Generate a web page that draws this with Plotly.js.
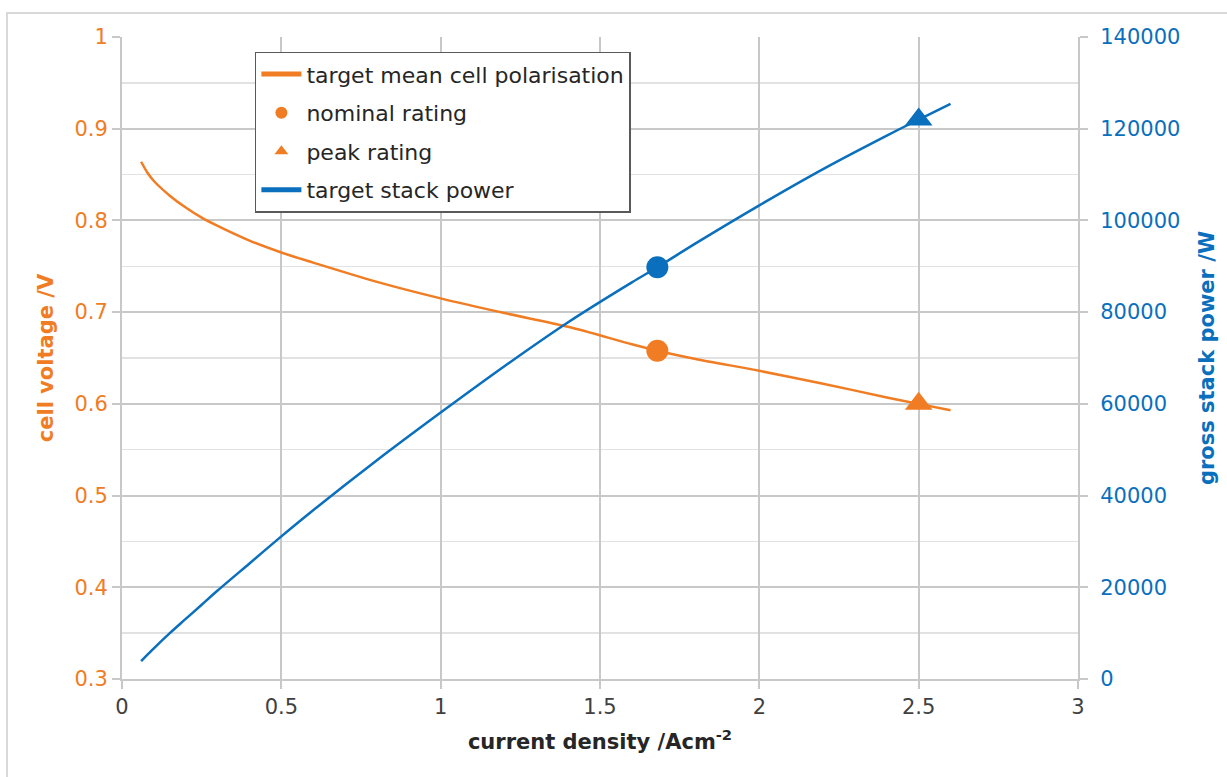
<!DOCTYPE html>
<html>
<head>
<meta charset="utf-8">
<script src="https://cdn.plot.ly/plotly-3.0.1.min.js"></script>
<style>html,body{margin:0;padding:0;background:#fff;}#chart{width:1227px;height:777px;}</style>
</head>
<body>
<div id="chart"></div>
<script>
// current density /Acm^-2
const currentDensity = [0.06, 0.08, 0.1, 0.15, 0.2, 0.25, 0.3, 0.4, 0.5, 0.6, 0.8, 1.0, 1.2, 1.4, 1.6, 1.68, 1.8, 2.0, 2.2, 2.4, 2.5, 2.6];
// target mean cell polarisation /V
const cellVoltage = [0.864, 0.852, 0.843, 0.827, 0.814, 0.803, 0.794, 0.778, 0.765, 0.754, 0.733, 0.715, 0.699, 0.684, 0.665, 0.658, 0.649, 0.636, 0.622, 0.607, 0.600, 0.593];
// target stack power /W
const stackPower = [3900, 5300, 6700, 10000, 13100, 16200, 19300, 25200, 31100, 36800, 47700, 58100, 68200, 77800, 86500, 89800, 95000, 103300, 111200, 118500, 122000, 125400];
// rating points
const nominalX = [1.68], nominalV = [0.658], nominalP = [89800];
const peakX = [2.5], peakV = [0.600], peakP = [122000];

const ORANGE = '#F07D23';
const BLUE = '#0A6FBD';
const FONT = 'DejaVu Sans, Verdana, sans-serif';
const FS = 21;

const traces = [
  {x: currentDensity, y: cellVoltage, mode: 'lines', name: 'target mean cell polarisation',
   line: {color: ORANGE, width: 2.5, shape: 'spline', smoothing: 0.8}, legendgroup: 'a'},
  {x: nominalX, y: nominalV, mode: 'markers', name: 'nominal rating',
   marker: {color: ORANGE, size: 22, symbol: 'circle'}, legendgroup: 'b'},
  {x: peakX, y: peakV, mode: 'markers', name: 'peak rating',
   marker: {color: ORANGE, size: 24, symbol: 'triangle-up'}, legendgroup: 'c'},
  {x: currentDensity, y: stackPower, mode: 'lines', name: 'target stack power', yaxis: 'y2',
   line: {color: BLUE, width: 2.5, shape: 'spline', smoothing: 0.8}, legendgroup: 'd'},
  {x: nominalX, y: nominalP, mode: 'markers', name: 'nominal power', yaxis: 'y2', showlegend: false,
   marker: {color: BLUE, size: 22, symbol: 'circle'}},
  {x: peakX, y: peakP, mode: 'markers', name: 'peak power', yaxis: 'y2', showlegend: false,
   marker: {color: BLUE, size: 24, symbol: 'triangle-up'}}
];

const layout = {
  width: 1227, height: 777,
  margin: {l: 122, r: 149, t: 37, b: 98},
  paper_bgcolor: '#fff', plot_bgcolor: '#fff',
  font: {family: FONT, size: FS, color: '#404040'},
  showlegend: true,
  legend: {x: 0.139, y: 0.977, xanchor: 'left', yanchor: 'top',
    bgcolor: '#fff', bordercolor: '#595959', borderwidth: 1.5,
    font: {family: FONT, size: 22, color: '#262626'},
    itemsizing: 'constant', itemwidth: 40, tracegroupgap: 7, traceorder: 'grouped'},
  xaxis: {range: [0, 3], dtick: 0.5, tick0: 0, showgrid: true, gridcolor: '#C8C8C8', gridwidth: 2,
    zeroline: false, showline: true, linecolor: '#C8C8C8', linewidth: 2,
    ticks: 'outside', ticklen: 8, tickcolor: '#C8C8C8', tickwidth: 2,
    tickfont: {family: FONT, size: FS, color: '#404040'},
    title: {text: 'current density /Acm<sup>-2</sup>', font: {family: FONT, size: FS, color: '#262626', weight: 'bold'}, standoff: 16}},
  yaxis: {range: [0.3, 1], dtick: 0.1, tick0: 0.3, showgrid: true, gridcolor: '#C8C8C8', gridwidth: 2,
    minor: {dtick: 0.05, showgrid: true, gridcolor: '#E2E2E2', gridwidth: 1.5},
    zeroline: false, showline: true, linecolor: '#C8C8C8', linewidth: 2,
    ticks: 'outside', ticklen: 8, tickcolor: '#C8C8C8', tickwidth: 2, tickformat: '.1~f',
    tickfont: {family: FONT, size: FS, color: ORANGE},
    title: {text: 'cell voltage /V', font: {family: FONT, size: FS, color: ORANGE, weight: 'bold'}, standoff: 15}},
  yaxis2: {range: [0, 140000], dtick: 20000, overlaying: 'y', side: 'right', showgrid: false,
    zeroline: false, showline: true, linecolor: '#C8C8C8', linewidth: 2,
    ticks: 'outside', ticklen: 8, tickcolor: '#C8C8C8', tickwidth: 2, tickformat: 'd', ticklabelstandoff: 8,
    tickfont: {family: FONT, size: FS, color: BLUE},
    title: {text: 'gross stack power /W', font: {family: FONT, size: FS, color: BLUE, weight: 'bold'}, standoff: 20}},
  shapes: [
    {type: 'path', xref: 'paper', yref: 'paper', path: 'M -0.1203,-0.2 L -0.1203,1.0374 L 1.2,1.0374',
     line: {color: '#D9D9D9', width: 2}}
  ]
};

Plotly.newPlot('chart', traces, layout, {displayModeBar: false, staticPlot: true});
</script>
</body>
</html>
